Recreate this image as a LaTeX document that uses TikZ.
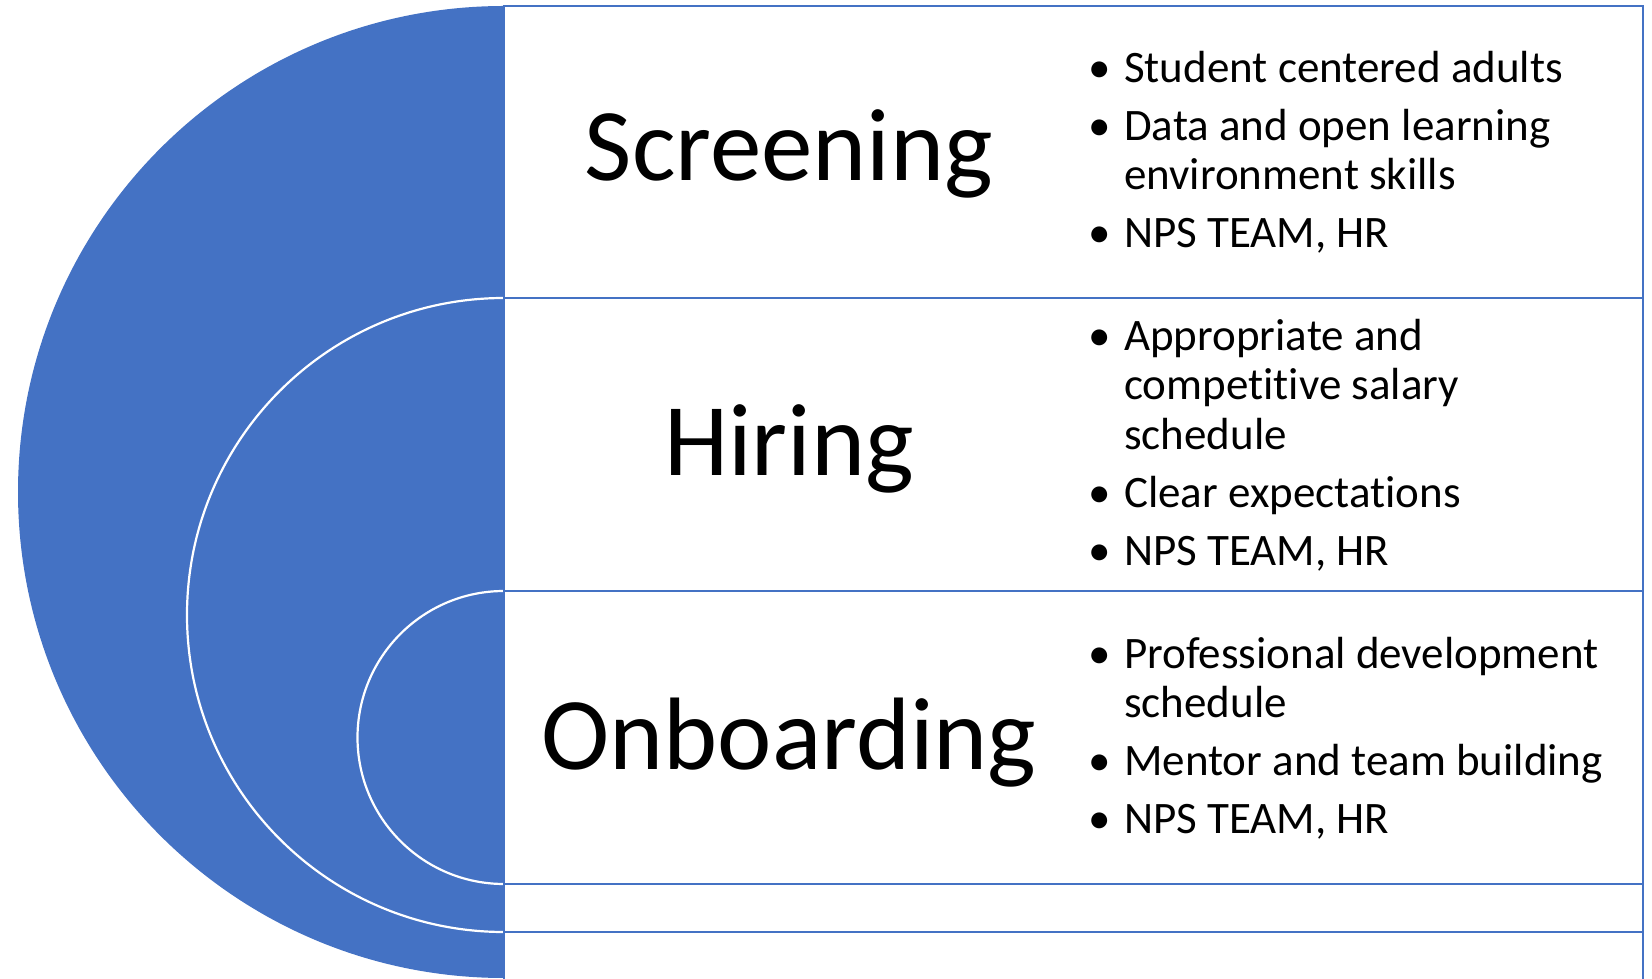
\documentclass[tikz,border=0pt]{standalone}
\usepackage{fontspec}
\setmainfont{Carlito}[Ligatures=NoCommon]
\usepackage{tikz}
\definecolor{targetblue}{HTML}{4472C4}
\newcommand{\bul}{\makebox[50pt]{\textbullet}}
\tikzset{
  stage/.style={font=\fontsize{103}{110}\selectfont, anchor=base, inner sep=0pt},
  points/.style={font=\fontsize{45}{49.5}\selectfont, anchor=west, inner sep=0pt},
  frame/.style={draw=targetblue, line width=2.4pt},
  ring/.style={draw=white, line width=2.2pt}
}

\begin{document}
\begin{tikzpicture}[x=1pt, y=1pt]
  \useasboundingbox (0,0) rectangle (1652,978);
  % --- Definitions ---
  \def\xL{504}  % left edge of the frames
  \def\xR{1643} % right edge of the frames

  % --- 1. Nested target ---
  \fill[targetblue] (\xL,0) arc[start angle=270, end angle=90, radius=486] -- cycle;
  \draw[ring] (\xL,680) arc[start angle=90, end angle=270, radius=317];
  \draw[ring] (\xL,387) arc[start angle=90, end angle=270, radius=146.5];

  % --- 2. Frames ---
  \draw[frame] (\xL,-5) rectangle (\xR,972);
  \draw[frame] (\xL,46) rectangle (\xR,680);
  \draw[frame] (\xL,94) rectangle (\xR,387);

  % --- 3. Stages ---
  \node[stage] (screening) at (789,797) {Screening};
  \node[stage] (hiring) at (789,502) {Hiring};
  \node[stage] (onboarding) at (789,209) {Onboarding};

  % --- 4. Bullet points ---
  \node[points] (screeningpts) at (1074,823) {\begin{tabular}{@{}l@{}l@{}}
    \bul & Student centered adults\\[8.5pt]
    \bul & Data and open learning\\
         & environment skills\\[8.5pt]
    \bul & NPS TEAM, HR
  \end{tabular}};
  \node[points] (hiringpts) at (1074,530) {\begin{tabular}{@{}l@{}l@{}}
    \bul & Appropriate and\\
         & competitive salary\\
         & schedule\\[8.5pt]
    \bul & Clear expectations\\[8.5pt]
    \bul & NPS TEAM, HR
  \end{tabular}};
  \node[points] (onboardingpts) at (1074,237) {\begin{tabular}{@{}l@{}l@{}}
    \bul & Professional development\\
         & schedule\\[8.5pt]
    \bul & Mentor and team building\\[8.5pt]
    \bul & NPS TEAM, HR
  \end{tabular}};
\end{tikzpicture}
\end{document}
